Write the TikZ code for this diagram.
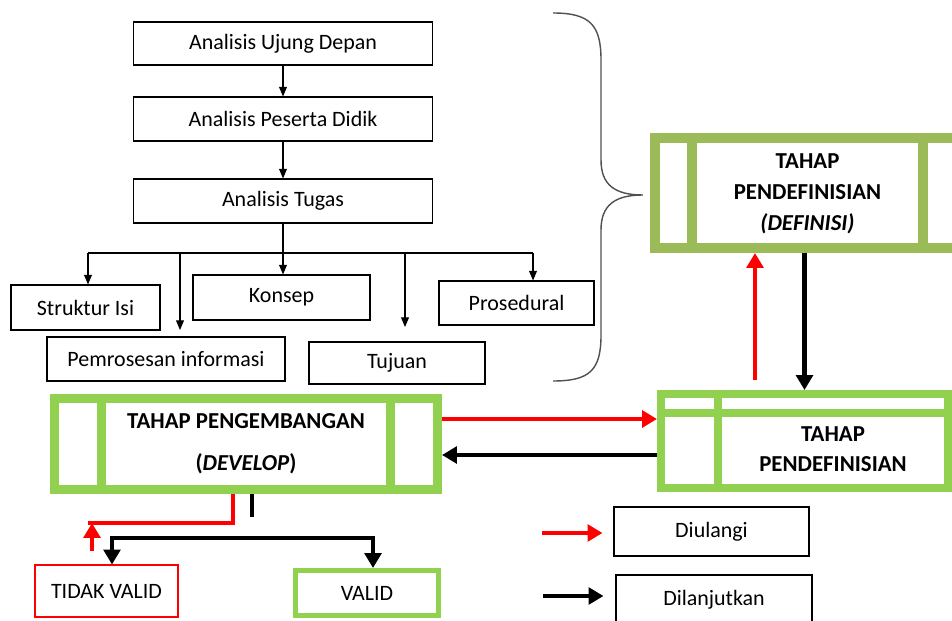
\documentclass[tikz,border=0pt]{standalone}
\usepackage{fontspec}
\setsansfont{Carlito}
\usetikzlibrary{arrows.meta}

\begin{document}
\begin{tikzpicture}[x=0.02cm, y=-0.02cm, font=\sffamily\fontsize{12.5}{15}\selectfont,
		textbox/.style={draw, line width=0.6pt, inner sep=0pt, align=center},
		phasebox/.style={draw, inner sep=0pt},
		phasetext/.style={align=center, font=\sffamily\bfseries\fontsize{13}{#1}\selectfont},
		thinarrow/.style={-{Triangle[length=5.5pt,width=4.5pt]}, line width=0.6pt},
		fatarrow/.style={-{Triangle[length=8.5pt,width=9.5pt]}, line width=2.3pt},
		fatline/.style={line width=2.6pt}]
		
		\def\px{0.02cm} % one pixel of the layout
		
		% Define colors
		
		\definecolor{phaseOlive}{RGB}{155,187,89}
		
		\definecolor{phaseLime}{RGB}{146,208,80}
		
		\definecolor{braceGray}{RGB}{80,80,80}
		
		\useasboundingbox (0,0) rectangle (952,621);
		
		\clip (0,0) rectangle (952,621);
		
		% Analysis steps
		
		\node[textbox, minimum width=299*\px, minimum height=43*\px] (ujung) at (283,43.5) {Analisis Ujung Depan};
		
		\node[textbox, minimum width=299*\px, minimum height=44*\px] (peserta) at (283,119) {Analisis Peserta Didik};
		
		\node[textbox, minimum width=299*\px, minimum height=44*\px] (tugas) at (283,201) {Analisis Tugas};
		
		\draw[thinarrow] (ujung) -- (peserta);
		
		\draw[thinarrow] (peserta) -- (tugas);
		
		% Task analysis outcomes
		
		\node[textbox, minimum width=149*\px, minimum height=45*\px] (struktur) at (85.5,307.5) {Struktur Isi};
		
		\node[textbox, minimum width=177*\px, minimum height=45*\px] (konsep) at (281.5,297.5) {Konsep};
		
		\node[textbox, minimum width=155*\px, minimum height=44*\px] (prosedural) at (516.5,303) {Prosedural};
		
		\node[textbox, minimum width=238*\px, minimum height=44*\px] (pemrosesan) at (166,359) {Pemrosesan informasi};
		
		\node[textbox, minimum width=176*\px, minimum height=42*\px] (tujuan) at (397,363) {Tujuan};
		
		\coordinate (splitL) at (88,253);
		
		\coordinate (splitR) at (533,253);
		
		\coordinate (pemTip) at (180,330);
		
		\coordinate (tujTip) at (405,327);
		
		\draw[line width=0.6pt] (splitL) -- (splitR);
		
		\draw[thinarrow] (tugas.south) -- (tugas.south |- konsep.north);
		
		\draw[thinarrow] (splitL) -- (splitL |- struktur.north);
		
		\draw[thinarrow] (pemTip |- splitL) -- (pemTip);
		
		\draw[thinarrow] (tujTip |- splitL) -- (tujTip);
		
		\draw[thinarrow] (splitR) -- (splitR |- prosedural.north);
		
		% Brace that gathers the analyses
		
		\draw[braceGray, line width=0.8pt] (553,13) .. controls (590,13) and (601,25) .. (601,60) -- (601,160)
			.. controls (601,185) and (615,195) .. (643,195)
			.. controls (615,195) and (601,205) .. (601,230) -- (601,335)
			.. controls (601,370) and (590,381) .. (553,381);
		
		% Define phase (top right)
		
		\node[phasebox, draw=phaseOlive, line width=0.2cm, minimum width=305*\px, minimum height=110*\px] (defbox) at (807.5,193) {};
		
		\draw[phaseOlive, line width=0.2cm] ([xshift=42*\px]defbox.north west) -- ([xshift=42*\px]defbox.south west);
		
		\draw[phaseOlive, line width=0.2cm] ([xshift=-42*\px]defbox.north east) -- ([xshift=-42*\px]defbox.south east);
		
		\node[phasetext=17.5pt] (deftext) at (807.5,194) {TAHAP\\PENDEFINISIAN\\\textit{(DEFINISI)}};
		
		% Define phase (middle right)
		
		\node[phasebox, draw=phaseLime, line width=0.16cm, minimum width=287*\px, minimum height=94*\px] (pdbox) at (804.5,441) {};
		
		\draw[phaseLime, line width=0.16cm] ([yshift=-22.5*\px]pdbox.north west) -- ([yshift=-22.5*\px]pdbox.north east);
		
		\draw[phaseLime, line width=0.16cm] ([xshift=61*\px]pdbox.north west) -- ([xshift=61*\px]pdbox.south west);
		
		\node[phasetext=17pt] (pdtext) at (833,449) {TAHAP\\PENDEFINISIAN};
		
		% Develop phase
		
		\node[phasebox, draw=phaseLime, line width=0.18cm, minimum width=383*\px, minimum height=91*\px, phasetext=24pt] (devbox) at (246,444) {TAHAP PENGEMBANGAN\\(\textit{DEVELOP})};
		
		\draw[phaseLime, line width=0.18cm] ([xshift=51.5*\px]devbox.north west) -- ([xshift=51.5*\px]devbox.south west);
		
		\draw[phaseLime, line width=0.18cm] ([xshift=-51.5*\px]devbox.north east) -- ([xshift=-51.5*\px]devbox.south east);
		
		% Arrows between the phases
		
		\coordinate (upStart) at (755,380);
		
		\draw[fatarrow, red] (upStart) -- (upStart |- defbox.south);
		
		\draw[fatarrow] (defbox.south -| pdbox.north) -- (pdbox.north);
		
		\draw[fatarrow, red] ([yshift=25*\px]devbox.east) -- ([yshift=25*\px]devbox.east -| pdbox.west);
		
		\draw[fatarrow] ([yshift=-11*\px]devbox.east -| pdbox.west) -- ([yshift=-11*\px]devbox.east);
		
		% Validation results
		
		\node[textbox, draw=red, minimum width=143*\px, minimum height=52*\px] (tidak) at (106.5,591) {TIDAK VALID};
		
		\node[phasebox, draw=phaseLime, line width=0.1cm, minimum width=143*\px, minimum height=45*\px] (valid) at (367,593) {VALID};
		
		\coordinate (redTurn) at (88,523);
		
		\coordinate (redFoot) at (92,551);
		
		\draw[red, fatline] ([xshift=-13*\px]devbox.south) |- (redTurn);
		
		\draw[fatarrow, red] (redFoot) -- (redFoot |- redTurn);
		
		\draw[black, fatline] ([xshift=6*\px]devbox.south) -- ++(0,23);
		
		\coordinate (blackL) at (112,538);
		
		\coordinate (blackR) at (373,538);
		
		\draw[fatarrow, {Triangle[length=8.5pt,width=9.5pt]}-{Triangle[length=8.5pt,width=9.5pt]}] (blackL |- tidak.north) -- (blackL) -- (blackR) -- (blackR |- valid.north);
		
		% Legend
		
		\node[textbox, minimum width=195*\px, minimum height=49*\px] (diulangi) at (711.5,531.5) {Diulangi};
		
		\node[textbox, minimum width=196*\px, minimum height=50*\px] (dilanjutkan) at (714,600) {Dilanjutkan};
		
		\coordinate (legRed) at (542,533);
		
		\coordinate (legBlack) at (543,596);
		
		\draw[fatarrow, red] (legRed) -- ([xshift=-11*\px]legRed -| diulangi.west);
		
		\draw[fatarrow] (legBlack) -- ([xshift=-12*\px]legBlack -| dilanjutkan.west);
		
	\end{tikzpicture}
\end{document}
